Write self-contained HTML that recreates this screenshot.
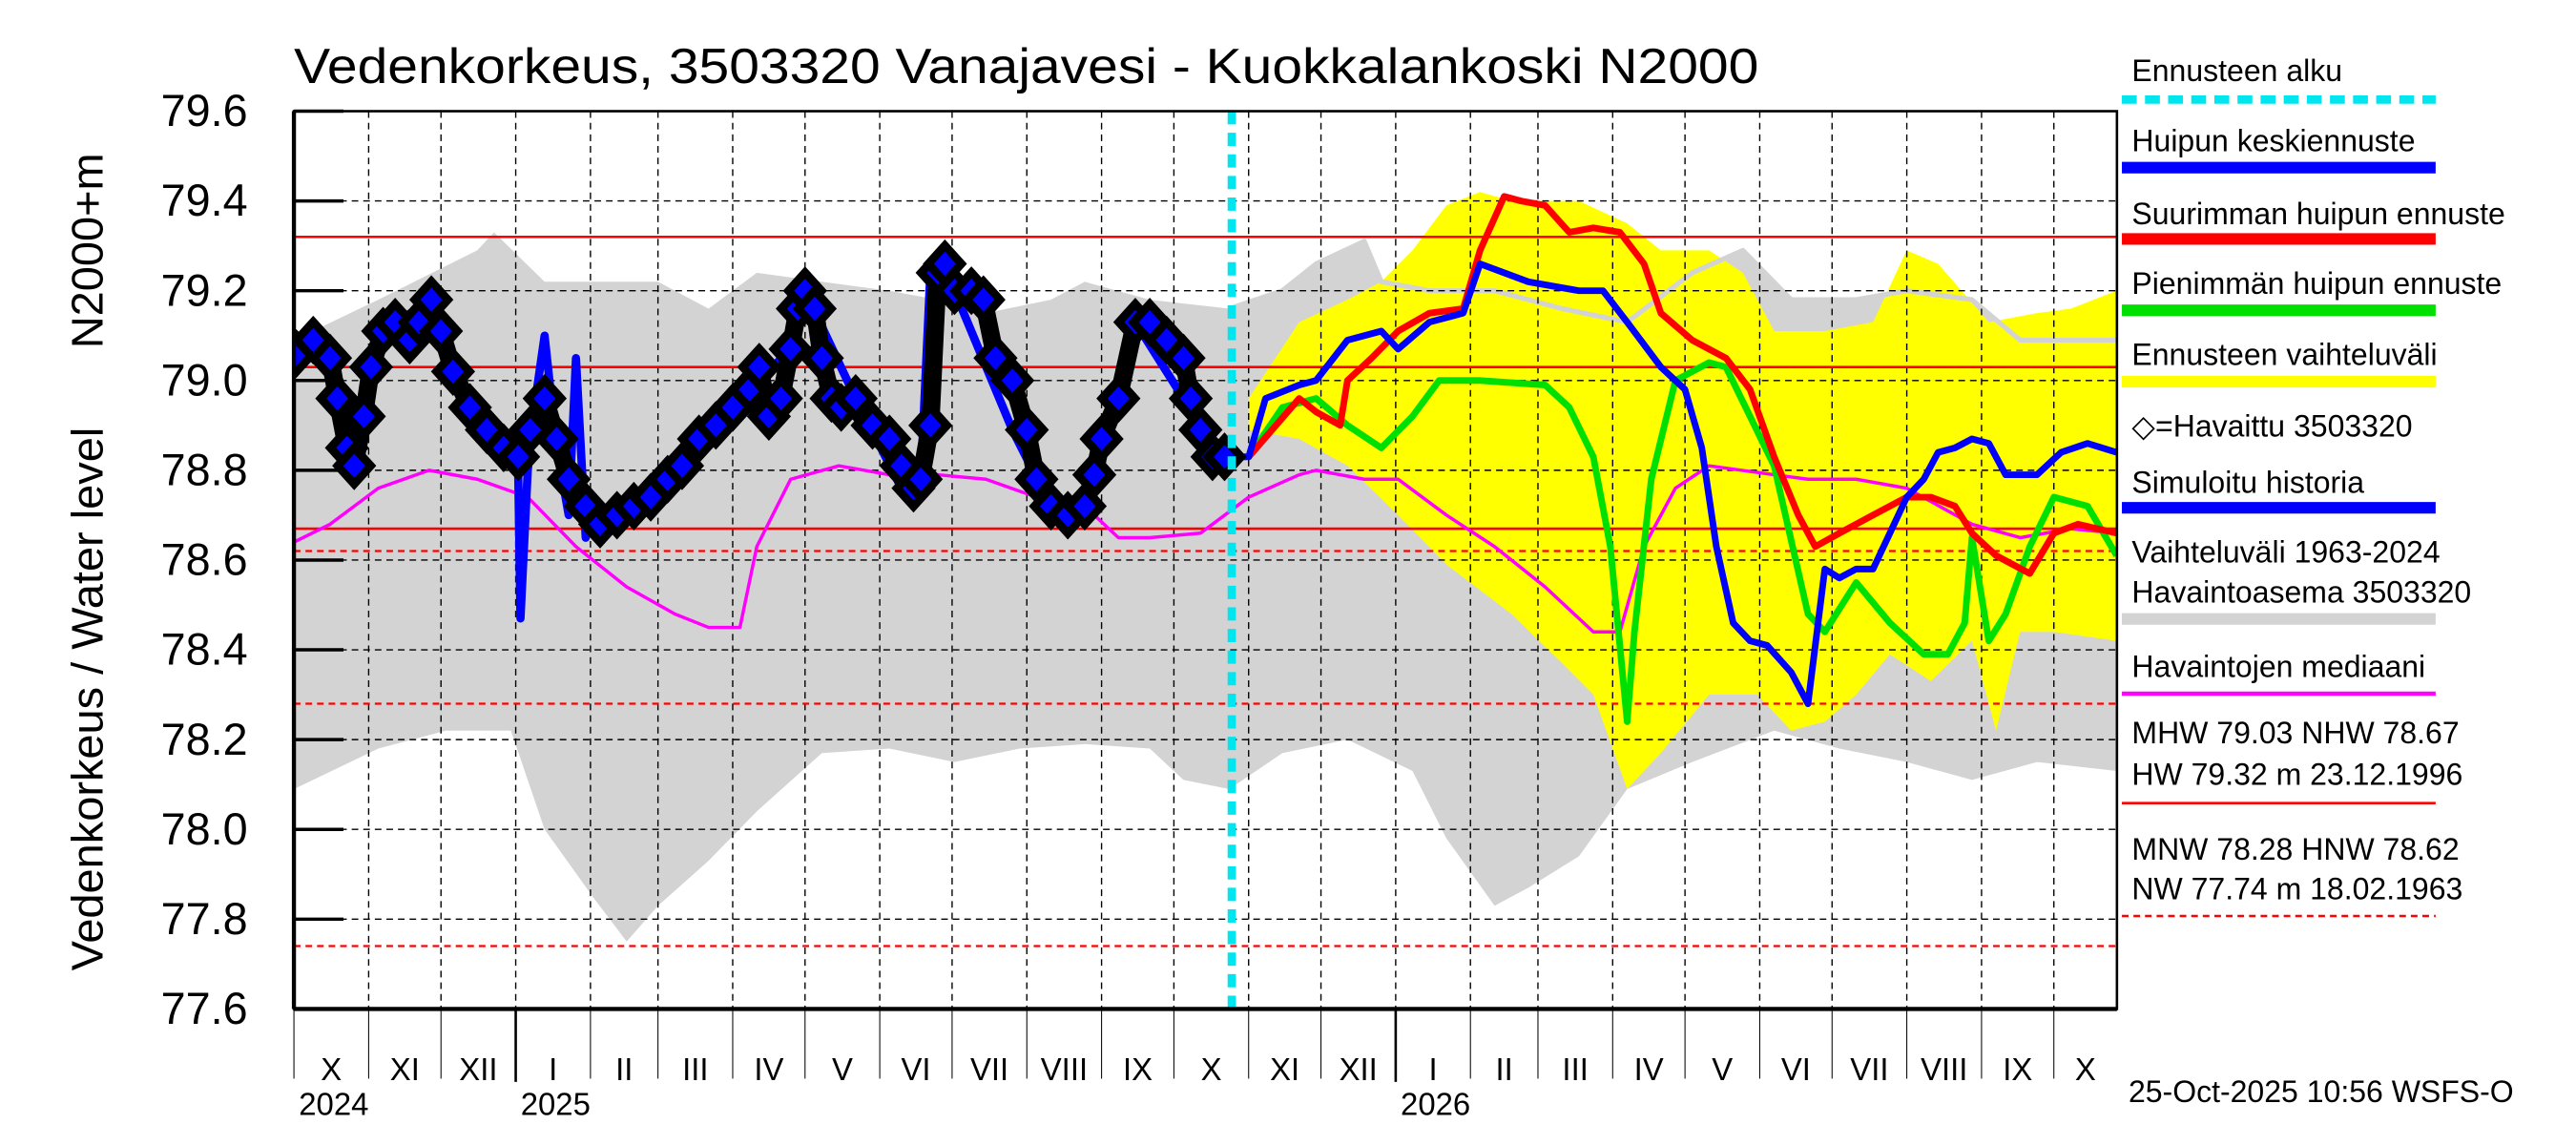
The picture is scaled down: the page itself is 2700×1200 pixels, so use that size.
<!DOCTYPE html>
<html><head><meta charset="utf-8"><style>
html,body{margin:0;padding:0;background:#fff;}
svg{display:block;font-family:"Liberation Sans",Arial,sans-serif;}
</style></head><body>
<svg id="chart" width="2700" height="1200" viewBox="0 0 1560 690" preserveAspectRatio="none" xmlns="http://www.w3.org/2000/svg">
<rect x="0" y="0" width="1560" height="690" fill="#fff"/>
<g id="plot"></g>
<g id="axes"></g>
<g id="legend"></g>
</svg>
<script>
// ---- data (day offsets from 1 Oct 2024, water level m N2000) ----
const obsDays=[1,8,15,18,22,25,29,32,37,42,48,52,57,61,66,73,80,87,93,98,104,109,114,121,127,134,141,148,155,161,168,175,182,189,193,197,202,206,209,212,216,219,223,227,233,240,247,252,257,260,264,267,270,274,281,286,291,298,304,308,314,321,328,332,335,342,349,355,362,369,372,376,381,386];
const obsVals=[79.06,79.09,79.05,78.96,78.85,78.81,78.92,79.03,79.11,79.13,79.09,79.13,79.18,79.11,79.02,78.94,78.89,78.85,78.83,78.89,78.96,78.87,78.78,78.72,78.68,78.70,78.72,78.74,78.78,78.81,78.87,78.90,78.94,78.98,79.03,78.92,78.96,79.07,79.16,79.20,79.16,79.05,78.96,78.94,78.96,78.90,78.87,78.81,78.76,78.78,78.90,79.24,79.26,79.20,79.20,79.18,79.05,79.00,78.89,78.78,78.72,78.70,78.72,78.79,78.87,78.96,79.13,79.13,79.09,79.05,78.96,78.89,78.83,78.83];
const histDays=[0,15,25,37,57,73,87,93,94,97,100,104,109,114,117,121,124,127,134,155,182,206,212,233,252,260,264,267,274,298,314,328,349,369,386,388];
const histVals=[79.05,79.05,78.81,79.11,79.18,78.94,78.85,78.80,78.47,78.80,78.95,79.10,78.85,78.70,79.05,78.65,78.70,78.68,78.70,78.78,78.94,79.07,79.20,78.96,78.76,78.78,79.24,79.26,79.20,78.89,78.72,78.72,79.13,78.96,78.83,78.83];
const meanDays=[388,396,403,417,424,437,451,458,471,485,492,512,533,543,553,567,577,584,590,597,604,611,621,628,635,641,648,655,662,669,676,682,689,696,703,710,723,733,744,756];
const meanVals=[78.83,78.83,78.96,78.99,79.00,79.09,79.11,79.07,79.13,79.15,79.26,79.22,79.20,79.20,79.13,79.03,78.98,78.85,78.63,78.46,78.42,78.41,78.35,78.28,78.58,78.56,78.58,78.58,78.66,78.74,78.78,78.84,78.85,78.87,78.86,78.79,78.79,78.84,78.86,78.84];
const maxDays=[396,417,424,434,437,447,458,471,485,492,502,509,519,529,539,550,560,567,580,594,604,614,624,631,641,655,669,679,689,696,706,720,730,740,756];
const maxVals=[78.83,78.96,78.93,78.90,79.00,79.05,79.11,79.15,79.16,79.29,79.41,79.40,79.39,79.33,79.34,79.33,79.26,79.15,79.09,79.05,78.98,78.83,78.70,78.63,78.66,78.70,78.74,78.74,78.72,78.66,78.61,78.57,78.66,78.68,78.66];
const minDays=[396,410,424,437,451,464,475,492,519,529,539,546,553,556,563,573,587,594,604,614,628,635,648,662,676,686,693,696,703,710,720,730,744,756];
const minVals=[78.83,78.94,78.96,78.90,78.85,78.92,79.00,79.00,78.99,78.94,78.83,78.63,78.24,78.44,78.78,79.00,79.04,79.03,78.92,78.81,78.48,78.44,78.55,78.46,78.39,78.39,78.46,78.65,78.42,78.48,78.63,78.74,78.72,78.61];
const medDays=[0,15,35,56,76,97,117,138,158,172,185,192,206,226,247,267,287,308,328,342,355,376,396,417,424,444,458,478,498,519,539,550,560,573,587,614,628,648,669,696,716,737,756];
const medVals=[78.64,78.68,78.76,78.80,78.78,78.74,78.63,78.54,78.48,78.45,78.45,78.63,78.78,78.81,78.79,78.79,78.78,78.74,78.72,78.65,78.65,78.66,78.74,78.79,78.80,78.78,78.78,78.70,78.63,78.54,78.44,78.44,78.63,78.76,78.81,78.79,78.78,78.78,78.76,78.68,78.65,78.67,78.66];
const grayHiDays=[0,35,76,83,104,124,151,172,192,219,247,267,287,314,328,355,388,410,424,444,451,471,498,526,553,580,601,621,648,669,696,716,756];
const grayHiVals=[79.09,79.18,79.29,79.33,79.22,79.22,79.22,79.16,79.24,79.22,79.20,79.18,79.15,79.18,79.22,79.18,79.16,79.20,79.26,79.31,79.22,79.20,79.20,79.16,79.13,79.24,79.29,79.18,79.18,79.20,79.18,79.09,79.09];
const grayLoDays=[0,35,63,90,104,124,138,151,172,192,219,247,274,301,328,355,369,388,410,437,464,478,498,512,533,553,580,614,641,669,696,723,756];
const grayLoVals=[78.09,78.18,78.22,78.22,78.00,77.85,77.75,77.83,77.93,78.04,78.17,78.18,78.15,78.18,78.19,78.18,78.11,78.09,78.17,78.20,78.13,77.98,77.83,77.87,77.94,78.09,78.15,78.22,78.18,78.15,78.11,78.15,78.13];
const yelHiDays=[396,417,437,451,464,478,492,505,533,553,567,587,601,614,635,655,669,682,703,723,737,756];
const yelHiVals=[78.96,79.13,79.18,79.22,79.29,79.39,79.42,79.40,79.40,79.35,79.29,79.29,79.24,79.11,79.11,79.13,79.29,79.26,79.13,79.15,79.16,79.20];
const yelLoDays=[396,417,437,458,478,505,526,539,553,567,587,607,621,635,648,662,679,696,706,716,730,756];
const yelLoVals=[78.89,78.87,78.81,78.70,78.59,78.48,78.37,78.30,78.09,78.17,78.30,78.30,78.22,78.24,78.30,78.39,78.33,78.42,78.22,78.44,78.44,78.42];
const refSolid=[79.32,79.03,78.67];
const refDashed=[78.62,78.28,77.74];
const yTicks=[77.6,77.8,78.0,78.2,78.4,78.6,78.8,79.0,79.2,79.4,79.6];
const monthLabels=["X","XI","XII","I","II","III","IV","V","VI","VII","VIII","IX","X","XI","XII","I","II","III","IV","V","VI","VII","VIII","IX","X"];
const yearLabels=["2024","2025","2026"];
const forecastStartDay=389;

// ---- scales ----
const X0=178,X1=1282,Y0=608,Y1=67,VMIN=77.6,VMAX=79.6,PXD=1.46;
const xs=d=>X0+d*PXD;
const ys=v=>Y0-(v-VMIN)/(VMAX-VMIN)*(Y0-Y1);
const NS="http://www.w3.org/2000/svg";
function mk(tag,attrs,parent){const e=document.createElementNS(NS,tag);for(const k in attrs)e.setAttribute(k,attrs[k]);parent.appendChild(e);return e;}
const plot=document.getElementById('plot'),axes=document.getElementById('axes'),legend=document.getElementById('legend');
const clip=mk('clipPath',{id:'pc'},mk('defs',{},document.getElementById('chart')));
mk('rect',{x:X0,y:Y1,width:X1-X0,height:Y0-Y1},clip);
plot.setAttribute('clip-path','url(#pc)');
function pts(d,v){return d.map((x,i)=>xs(x).toFixed(1)+','+ys(v[i]).toFixed(1));}
function band(dh,vh,dl,vl,color,name){
  const p=pts(dh,vh).concat(pts(dl,vl).reverse());
  const e=mk('polygon',{points:p.join(' '),fill:color},plot);
  
  
}
function line(d,v,color,w,name){
  const e=mk('polyline',{points:pts(d,v).join(' '),fill:'none',stroke:color,'stroke-width':w,'stroke-linejoin':'round'},plot);
  
  
}
band(grayHiDays,grayHiVals,grayLoDays,grayLoVals,'#d3d3d3','variation-range-band');
band(yelHiDays,yelHiVals,yelLoDays,yelLoVals,'#ffff00','forecast-range-band');
line(grayHiDays.filter(d=>d>=388),grayHiVals.filter((v,i)=>grayHiDays[i]>=388),'#d3d3d3',3,'variation-upper-edge');
// grid
const mStartDays=[];{let y=2024,m=9;for(let i=0;i<=25;i++){mStartDays.push(Math.round((Date.UTC(y,m,1)-Date.UTC(2024,9,1))/86400000));m++;if(m>11){m=0;y++;}}}
mStartDays.forEach((d,i)=>{if(i>0){const g=mk('line',{x1:xs(d),x2:xs(d),y1:Y1,y2:Y0,stroke:'#000','stroke-width':0.8,'stroke-dasharray':'4,3'},plot);}});
yTicks.forEach(v=>{const g=mk('line',{x1:X0,x2:X1,y1:ys(v),y2:ys(v),stroke:'#000','stroke-width':0.8,'stroke-dasharray':'4,3'},plot);});
refSolid.forEach(v=>{const g=mk('line',{x1:X0,x2:X1,y1:ys(v),y2:ys(v),stroke:'#ff0000','stroke-width':1.5},plot);});
refDashed.forEach(v=>{const g=mk('line',{x1:X0,x2:X1,y1:ys(v),y2:ys(v),stroke:'#ff0000','stroke-width':1.3,'stroke-dasharray':'4,3'},plot);});
line(medDays,medVals,'#ff00ff',2,'median-line');
line(histDays,histVals,'#0000ff',5,'simulated-history-line');
line(minDays,minVals,'#00e000',4,'min-peak-forecast-line');
line(maxDays,maxVals,'#ff0000',4,'max-peak-forecast-line');
line(meanDays,meanVals,'#0000ff',4,'mean-peak-forecast-line');
// observed
line(obsDays,obsVals,'#000',11,'observed-line');
obsDays.forEach((d,i)=>{const x=xs(d),y=ys(obsVals[i]);
  const e=mk('polygon',{points:`${x},${y-11} ${x+10},${y} ${x},${y+11} ${x-10},${y}`,fill:'#0000ff',stroke:'#000','stroke-width':5},plot);
  
  });
// forecast start
{const e=mk('line',{x1:xs(forecastStartDay),x2:xs(forecastStartDay),y1:Y1,y2:Y0,stroke:'#00e5ee','stroke-width':5,'stroke-dasharray':'8,5'},plot);
}
// axes
mk('rect',{x:X0,y:Y1,width:X1-X0,height:Y0-Y1,fill:'none',stroke:'#000','stroke-width':1.5},axes);
mk('line',{x1:X0,x2:X0,y1:Y1,y2:Y0,stroke:'#000','stroke-width':2.5},axes);
mk('line',{x1:X0,x2:X1,y1:Y0,y2:Y0,stroke:'#000','stroke-width':2.5},axes);
yTicks.forEach(v=>{mk('line',{x1:X0,x2:X0+30,y1:ys(v),y2:ys(v),stroke:'#000','stroke-width':2},axes);
  const t=mk('text',{x:X0-28,y:ys(v)+9,'text-anchor':'end','font-size':27},axes);t.textContent=v.toFixed(1);
  });
mStartDays.forEach((d,i)=>{const x=xs(d);if(x>X1+1)return;
  const yr=(i===3||i===15);
  mk('line',{x1:x,x2:x,y1:Y0,y2:yr?652:650,stroke:'#000','stroke-width':yr?1.5:0.6},axes);
  if(i<monthLabels.length){const nx=Math.min(xs(mStartDays[i+1]),X1);
    const t=mk('text',{x:(x+nx)/2,y:651,'text-anchor':'middle','font-size':19},axes);t.textContent=monthLabels[i];
    }});
[[0,yearLabels[0]],[3,yearLabels[1]],[15,yearLabels[2]]].forEach(([i,s])=>{const t=mk('text',{x:xs(mStartDays[i])+3,y:672,'font-size':19},axes);t.textContent=s;
  });
</script>
<script>
// static texts
(function(){
const NS="http://www.w3.org/2000/svg",svg=document.getElementById('chart'),lg=document.getElementById('legend');
function tx(x,y,s,size,name,parent,extra){const t=document.createElementNS(NS,'text');t.setAttribute('x',x);t.setAttribute('y',y);t.setAttribute('font-size',size);if(extra)for(const k in extra)t.setAttribute(k,extra[k]);t.textContent=s;


(parent||svg).appendChild(t);return t;}
function ln(y,color,dash,w){const l=document.createElementNS(NS,'line');l.setAttribute('x1',1285);l.setAttribute('x2',1475);l.setAttribute('y1',y);l.setAttribute('y2',y);l.setAttribute('stroke',color);l.setAttribute('stroke-width',w||7);if(dash)l.setAttribute('stroke-dasharray',dash);


lg.appendChild(l);}
tx(178,50,'Vedenkorkeus, 3503320 Vanajavesi - Kuokkalankoski N2000',30,'chart-title',svg,{textLength:887,lengthAdjust:'spacingAndGlyphs'});
tx(0,0,'Vedenkorkeus / Water level',27,'y-axis-title',svg,{transform:'translate(62,585) rotate(-90)'});
tx(0,0,'N2000+m',27,'y-axis-unit',svg,{transform:'translate(62,210) rotate(-90)'});
const F=18.5;
tx(1291,49,'Ennusteen alku',F,'legend-forecast-start',lg);ln(60,'#00e5ee','9,5',5);
tx(1291,91,'Huipun keskiennuste',F,'legend-mean-peak',lg);ln(101,'#0000ff');
tx(1291,135,'Suurimman huipun ennuste',F,'legend-max-peak',lg);ln(144,'#ff0000');
tx(1291,177,'Pienimmän huipun ennuste',F,'legend-min-peak',lg);ln(187,'#00e000');
tx(1291,220,'Ennusteen vaihteluväli',F,'legend-forecast-range',lg);ln(230,'#ffff00');
tx(1291,263,'◇=Havaittu 3503320',F,'legend-observed',lg);
tx(1291,297,'Simuloitu historia',F,'legend-simulated',lg);ln(306,'#0000ff');
tx(1291,339,'Vaihteluväli 1963-2024',F,'legend-variation-range',lg);
tx(1291,363,' Havaintoasema 3503320',F,'legend-station',lg,{'xml:space':'preserve'});ln(373,'#d3d3d3');
tx(1291,408,'Havaintojen mediaani',F,'legend-median',lg);ln(418,'#ff00ff',null,2.5);
tx(1291,448,'MHW  79.03 NHW  78.67',F,'legend-mhw',lg,{'xml:space':'preserve'});
tx(1291,473,'HW  79.32 m 23.12.1996',F,'legend-hw',lg,{'xml:space':'preserve'});ln(484,'#ff0000',null,1.5);
tx(1291,518,'MNW  78.28 HNW  78.62',F,'legend-mnw',lg,{'xml:space':'preserve'});
tx(1291,542,'NW  77.74 m 18.02.1963',F,'legend-nw',lg,{'xml:space':'preserve'});ln(552,'#ff0000','4,3',1.5);
tx(1289,664,'25-Oct-2025 10:56 WSFS-O',F,'timestamp',svg);
})();
</script>
</body></html>
